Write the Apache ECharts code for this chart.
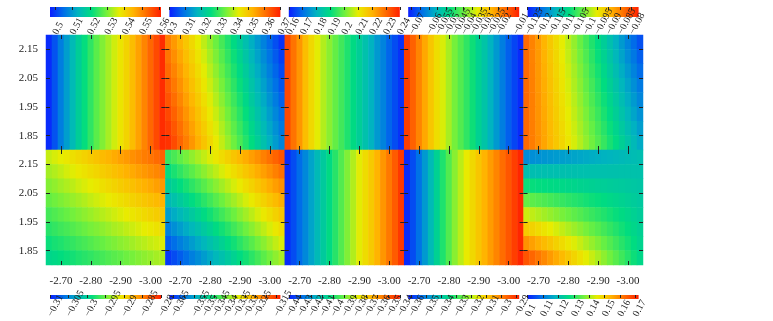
<!DOCTYPE html>
<html>
<head>
<meta charset="utf-8">
<title>heatmap grid</title>
<script src="https://cdn.jsdelivr.net/npm/echarts@6.0.0/dist/echarts.min.js"></script>
<style>
  html, body { margin: 0; padding: 0; background: #fff; }
  #main { width: 773px; height: 321px; }
</style>
</head>
<body>
<div id="main"></div>
<script>
// shared axes of the ten panels
const xTicks = [-2.70, -2.80, -2.90, -3.00];
const yTicks = [1.85, 1.95, 2.05, 2.15];
const xRange = [-3.05, -2.65];
const yRange = [1.80, 2.20];

// panel values: rows from top (y=2.2) down, columns from x=-2.65 to x=-3.05
const valuesA = [
  [0.4983,0.5021,0.5066,0.5104,0.5143,0.5181,0.5213,0.5245,0.5277,0.5303,
   0.5328,0.5354,0.5380,0.5405,0.5437,0.5469,0.5501,0.5533,0.5565,0.5597]
];
const valuesB = [
  [0.3587,0.3557,0.3527,0.3497,0.3468,0.3438,0.3408,0.3378,0.3349,0.3319,0.3289,0.3259,0.3230,0.3200,0.3170,0.3140,0.3111,0.3081,0.3051,0.3021],
  [0.3600,0.3570,0.3540,0.3510,0.3481,0.3451,0.3421,0.3391,0.3362,0.3332,0.3302,0.3272,0.3243,0.3213,0.3183,0.3153,0.3124,0.3094,0.3064,0.3034],
  [0.3613,0.3583,0.3553,0.3523,0.3494,0.3464,0.3434,0.3404,0.3375,0.3345,0.3315,0.3285,0.3256,0.3226,0.3196,0.3166,0.3137,0.3107,0.3077,0.3047],
  [0.3626,0.3596,0.3566,0.3536,0.3507,0.3477,0.3447,0.3417,0.3388,0.3358,0.3328,0.3298,0.3269,0.3239,0.3209,0.3179,0.3150,0.3120,0.3090,0.3060],
  [0.3639,0.3609,0.3579,0.3549,0.3520,0.3490,0.3460,0.3430,0.3401,0.3371,0.3341,0.3311,0.3282,0.3252,0.3222,0.3192,0.3163,0.3133,0.3103,0.3073],
  [0.3653,0.3623,0.3593,0.3563,0.3534,0.3504,0.3474,0.3444,0.3415,0.3385,0.3355,0.3325,0.3296,0.3266,0.3236,0.3206,0.3177,0.3147,0.3117,0.3087],
  [0.3666,0.3636,0.3606,0.3576,0.3547,0.3517,0.3487,0.3457,0.3428,0.3398,0.3368,0.3338,0.3309,0.3279,0.3249,0.3219,0.3190,0.3160,0.3130,0.3100],
  [0.3679,0.3649,0.3619,0.3589,0.3560,0.3530,0.3500,0.3470,0.3441,0.3411,0.3381,0.3351,0.3322,0.3292,0.3262,0.3232,0.3203,0.3173,0.3143,0.3113]
];
const valuesC = [
  [0.2344,0.2288,0.2240,0.2184,0.2136,0.2096,0.2056,0.2024,0.1992,0.1960,
   0.1928,0.1896,0.1864,0.1832,0.1800,0.1760,0.1728,0.1688,0.1656,0.1624]
];
const valuesD = [
  [-0.0112,-0.0150,-0.0189,-0.0227,-0.0266,-0.0298,-0.0330,-0.0362,-0.0394,-0.0419,
   -0.0445,-0.0470,-0.0502,-0.0528,-0.0560,-0.0592,-0.0624,-0.0656,-0.0682,-0.0707]
];
const valuesE = [
  [-0.0830,-0.0850,-0.0870,-0.0891,-0.0911,-0.0931,-0.0951,-0.0971,-0.0991,-0.1012,-0.1032,-0.1052,-0.1072,-0.1092,-0.1112,-0.1132,-0.1153,-0.1173,-0.1193,-0.1213],
  [-0.0830,-0.0850,-0.0869,-0.0889,-0.0909,-0.0928,-0.0948,-0.0968,-0.0987,-0.1007,-0.1026,-0.1046,-0.1066,-0.1085,-0.1105,-0.1124,-0.1144,-0.1164,-0.1183,-0.1203],
  [-0.0830,-0.0849,-0.0868,-0.0887,-0.0906,-0.0925,-0.0944,-0.0963,-0.0982,-0.1001,-0.1020,-0.1040,-0.1059,-0.1078,-0.1097,-0.1116,-0.1135,-0.1154,-0.1173,-0.1192],
  [-0.0830,-0.0848,-0.0867,-0.0885,-0.0904,-0.0922,-0.0941,-0.0959,-0.0978,-0.0996,-0.1015,-0.1033,-0.1052,-0.1070,-0.1089,-0.1107,-0.1126,-0.1144,-0.1163,-0.1181],
  [-0.0829,-0.0847,-0.0865,-0.0883,-0.0901,-0.0919,-0.0937,-0.0955,-0.0973,-0.0991,-0.1009,-0.1027,-0.1045,-0.1063,-0.1081,-0.1099,-0.1117,-0.1135,-0.1153,-0.1171],
  [-0.0829,-0.0847,-0.0864,-0.0881,-0.0899,-0.0916,-0.0934,-0.0951,-0.0969,-0.0986,-0.1003,-0.1021,-0.1038,-0.1056,-0.1073,-0.1091,-0.1108,-0.1125,-0.1143,-0.1160],
  [-0.0829,-0.0846,-0.0863,-0.0879,-0.0896,-0.0913,-0.0930,-0.0947,-0.0964,-0.0981,-0.0998,-0.1014,-0.1031,-0.1048,-0.1065,-0.1082,-0.1099,-0.1116,-0.1132,-0.1149],
  [-0.0829,-0.0845,-0.0861,-0.0878,-0.0894,-0.0910,-0.0926,-0.0943,-0.0959,-0.0975,-0.0992,-0.1008,-0.1024,-0.1040,-0.1057,-0.1073,-0.1089,-0.1106,-0.1122,-0.1138]
];
const valuesF = [
  [-0.2923,-0.2918,-0.2913,-0.2909,-0.2904,-0.2899,-0.2895,-0.2890,-0.2885,-0.2880,-0.2876,-0.2871,-0.2866,-0.2862,-0.2857,-0.2852,-0.2847,-0.2843,-0.2838,-0.2833],
  [-0.2933,-0.2929,-0.2924,-0.2919,-0.2915,-0.2910,-0.2906,-0.2901,-0.2897,-0.2892,-0.2888,-0.2883,-0.2879,-0.2874,-0.2870,-0.2865,-0.2861,-0.2856,-0.2852,-0.2847],
  [-0.2943,-0.2939,-0.2934,-0.2930,-0.2926,-0.2921,-0.2917,-0.2913,-0.2909,-0.2904,-0.2900,-0.2896,-0.2891,-0.2887,-0.2883,-0.2878,-0.2874,-0.2870,-0.2865,-0.2861],
  [-0.2953,-0.2949,-0.2945,-0.2941,-0.2937,-0.2933,-0.2929,-0.2924,-0.2920,-0.2916,-0.2912,-0.2908,-0.2904,-0.2900,-0.2895,-0.2891,-0.2887,-0.2883,-0.2879,-0.2875],
  [-0.2964,-0.2960,-0.2956,-0.2952,-0.2948,-0.2944,-0.2940,-0.2936,-0.2932,-0.2928,-0.2924,-0.2920,-0.2916,-0.2912,-0.2908,-0.2904,-0.2900,-0.2896,-0.2892,-0.2888],
  [-0.2974,-0.2970,-0.2966,-0.2963,-0.2959,-0.2955,-0.2951,-0.2947,-0.2944,-0.2940,-0.2936,-0.2932,-0.2929,-0.2925,-0.2921,-0.2917,-0.2913,-0.2910,-0.2906,-0.2902],
  [-0.2984,-0.2980,-0.2977,-0.2973,-0.2970,-0.2966,-0.2963,-0.2959,-0.2955,-0.2952,-0.2948,-0.2945,-0.2941,-0.2938,-0.2934,-0.2930,-0.2927,-0.2923,-0.2920,-0.2916],
  [-0.2994,-0.2991,-0.2987,-0.2984,-0.2981,-0.2977,-0.2974,-0.2971,-0.2967,-0.2964,-0.2960,-0.2957,-0.2954,-0.2950,-0.2947,-0.2943,-0.2940,-0.2937,-0.2933,-0.2930]
];
const valuesG = [
  [-0.3435,-0.3422,-0.3408,-0.3395,-0.3381,-0.3367,-0.3354,-0.3340,-0.3327,-0.3313,-0.3300,-0.3286,-0.3272,-0.3259,-0.3245,-0.3232,-0.3218,-0.3204,-0.3191,-0.3177],
  [-0.3466,-0.3452,-0.3438,-0.3424,-0.3411,-0.3397,-0.3383,-0.3369,-0.3356,-0.3342,-0.3328,-0.3314,-0.3301,-0.3287,-0.3273,-0.3259,-0.3246,-0.3232,-0.3218,-0.3204],
  [-0.3496,-0.3482,-0.3468,-0.3454,-0.3440,-0.3427,-0.3413,-0.3399,-0.3385,-0.3371,-0.3357,-0.3343,-0.3329,-0.3315,-0.3301,-0.3287,-0.3273,-0.3259,-0.3245,-0.3232],
  [-0.3526,-0.3512,-0.3498,-0.3484,-0.3470,-0.3456,-0.3442,-0.3428,-0.3414,-0.3400,-0.3385,-0.3371,-0.3357,-0.3343,-0.3329,-0.3315,-0.3301,-0.3287,-0.3273,-0.3259],
  [-0.3557,-0.3542,-0.3528,-0.3514,-0.3499,-0.3485,-0.3471,-0.3457,-0.3442,-0.3428,-0.3414,-0.3400,-0.3385,-0.3371,-0.3357,-0.3343,-0.3328,-0.3314,-0.3300,-0.3286],
  [-0.3587,-0.3572,-0.3558,-0.3543,-0.3529,-0.3515,-0.3500,-0.3486,-0.3471,-0.3457,-0.3443,-0.3428,-0.3414,-0.3399,-0.3385,-0.3370,-0.3356,-0.3342,-0.3327,-0.3313],
  [-0.3617,-0.3603,-0.3588,-0.3574,-0.3559,-0.3544,-0.3530,-0.3515,-0.3501,-0.3486,-0.3471,-0.3457,-0.3442,-0.3427,-0.3413,-0.3398,-0.3384,-0.3369,-0.3354,-0.3340],
  [-0.3648,-0.3633,-0.3618,-0.3603,-0.3588,-0.3574,-0.3559,-0.3544,-0.3529,-0.3515,-0.3500,-0.3485,-0.3470,-0.3456,-0.3441,-0.3426,-0.3411,-0.3396,-0.3382,-0.3367]
];
const valuesH = [
  [-0.438,-0.433,-0.428,-0.423,-0.418,-0.413,-0.408,-0.403,-0.398,-0.393,
   -0.388,-0.383,-0.378,-0.374,-0.370,-0.365,-0.360,-0.355,-0.350,-0.344]
];
const valuesI = [
  [-0.3605,-0.3568,-0.3524,-0.3472,-0.3420,-0.3368,-0.3317,-0.3272,-0.3228,-0.3191,
   -0.3154,-0.3124,-0.3095,-0.3065,-0.3035,-0.3006,-0.2976,-0.2947,-0.2917,-0.2887]
];
const valuesJ = [
  [0.1127,0.1131,0.1135,0.1139,0.1143,0.1147,0.1151,0.1155,0.1159,0.1163,0.1167,0.1171,0.1175,0.1179,0.1183,0.1187,0.1191,0.1195,0.1198,0.1202],
  [0.1203,0.1203,0.1203,0.1204,0.1204,0.1204,0.1205,0.1205,0.1205,0.1206,0.1206,0.1207,0.1207,0.1207,0.1208,0.1208,0.1209,0.1209,0.1209,0.1210],
  [0.1279,0.1275,0.1272,0.1269,0.1266,0.1263,0.1260,0.1257,0.1254,0.1250,0.1247,0.1244,0.1241,0.1238,0.1235,0.1232,0.1229,0.1226,0.1222,0.1219],
  [0.1354,0.1347,0.1340,0.1334,0.1327,0.1320,0.1314,0.1307,0.1300,0.1294,0.1287,0.1280,0.1274,0.1267,0.1260,0.1254,0.1247,0.1240,0.1234,0.1227],
  [0.1430,0.1420,0.1409,0.1399,0.1389,0.1379,0.1368,0.1358,0.1348,0.1338,0.1327,0.1317,0.1307,0.1297,0.1286,0.1276,0.1266,0.1256,0.1245,0.1235],
  [0.1505,0.1491,0.1477,0.1463,0.1450,0.1436,0.1422,0.1408,0.1395,0.1381,0.1367,0.1353,0.1340,0.1326,0.1312,0.1298,0.1284,0.1271,0.1257,0.1243],
  [0.1581,0.1564,0.1546,0.1529,0.1512,0.1494,0.1477,0.1460,0.1442,0.1425,0.1407,0.1390,0.1373,0.1355,0.1338,0.1321,0.1303,0.1286,0.1269,0.1251],
  [0.1656,0.1635,0.1614,0.1593,0.1572,0.1551,0.1531,0.1510,0.1489,0.1468,0.1447,0.1426,0.1405,0.1384,0.1363,0.1343,0.1322,0.1301,0.1280,0.1259]
];

// colour bar ranges and their tick labels
const rangeA = [0.497, 0.561], ticksA = [0.5, 0.51, 0.52, 0.53, 0.54, 0.55, 0.56];
const rangeB = [0.300, 0.370], ticksB = [0.3, 0.31, 0.32, 0.33, 0.34, 0.35, 0.36, 0.37];
const rangeC = [0.160, 0.240], ticksC = [0.16, 0.17, 0.18, 0.19, 0.2, 0.21, 0.22, 0.23, 0.24];
const rangeD = [-0.072, -0.008], ticksD = [-0.07, -0.065, -0.06, -0.055, -0.05, -0.045, -0.04, -0.035, -0.03, -0.025, -0.02, -0.015, -0.01];
const rangeE = [-0.125, -0.077], ticksE = [-0.125, -0.12, -0.115, -0.11, -0.105, -0.1, -0.095, -0.09, -0.085, -0.08];
const rangeF = [-0.310, -0.280], ticksF = [-0.31, -0.305, -0.3, -0.295, -0.29, -0.285, -0.28];
const rangeG = [-0.367, -0.313], ticksG = [-0.365, -0.36, -0.355, -0.35, -0.345, -0.34, -0.335, -0.33, -0.325, -0.32, -0.315];
const rangeH = [-0.440, -0.340], ticksH = [-0.44, -0.43, -0.42, -0.41, -0.4, -0.39, -0.38, -0.37, -0.36, -0.35, -0.34];
const rangeI = [-0.362, -0.288], ticksI = [-0.36, -0.35, -0.34, -0.33, -0.32, -0.31, -0.3, -0.29];
const rangeJ = [0.100, 0.172], ticksJ = [0.1, 0.11, 0.12, 0.13, 0.14, 0.15, 0.16, 0.17];

const jet = ['#0a1eff', '#0070e8', '#00b4c0', '#00dc80', '#6cf040', '#e8ec00', '#ffb400', '#ff6a00', '#ff2000'];
const font = 'Liberation Serif';
const ink = '#222';

const panels = [
  { vals: valuesA, range: rangeA, ticks: ticksA },
  { vals: valuesB, range: rangeB, ticks: ticksB },
  { vals: valuesC, range: rangeC, ticks: ticksC },
  { vals: valuesD, range: rangeD, ticks: ticksD },
  { vals: valuesE, range: rangeE, ticks: ticksE },
  { vals: valuesF, range: rangeF, ticks: ticksF },
  { vals: valuesG, range: rangeG, ticks: ticksG },
  { vals: valuesH, range: rangeH, ticks: ticksH },
  { vals: valuesI, range: rangeI, ticks: ticksI },
  { vals: valuesJ, range: rangeJ, ticks: ticksJ }
];

const lefts = [46, 165.4, 284.8, 404.2, 523.6];
const tops = [35, 150];
const pw = 119.4, ph = 115;

const fmtBar = v => String(v).replace('-', '\u2212');
const barGradient = () => new echarts.graphic.LinearGradient(0, 0, 1, 0,
  jet.map((c, i) => ({ offset: i / (jet.length - 1), color: c })));

const grid = [], xAxis = [], yAxis = [], series = [], visualMap = [];
const noLine = { show: false };
const tickIn = { inside: true, length: 4, lineStyle: { color: ink, width: 1 } };

panels.forEach((p, k) => {
  const row = Math.floor(k / 5), col = k % 5;
  const nr = p.vals.length, nc = p.vals[0].length;

  // heatmap panel
  const gi = grid.length;
  grid.push({ left: lefts[col], top: tops[row], width: pw, height: ph });
  const xc = xAxis.length;
  xAxis.push({ type: 'category', gridIndex: gi, data: [...Array(nc).keys()], show: false });
  xAxis.push({
    type: 'value', gridIndex: gi, position: 'bottom', min: xRange[0], max: xRange[1], inverse: true,
    z: 10, axisLine: noLine, splitLine: noLine,
    axisTick: Object.assign({ customValues: xTicks }, tickIn),
    axisLabel: {
      show: row === 1, customValues: xTicks, margin: 11, color: ink,
      fontFamily: font, fontSize: 11, formatter: v => v.toFixed(2)
    }
  });
  xAxis.push({
    type: 'value', gridIndex: gi, position: 'top', min: xRange[0], max: xRange[1], inverse: true,
    z: 10, axisLine: noLine, splitLine: noLine, axisLabel: { show: false },
    axisTick: Object.assign({ customValues: xTicks }, tickIn)
  });
  const yc = yAxis.length;
  yAxis.push({ type: 'category', gridIndex: gi, data: [...Array(nr).keys()], inverse: true, show: false });
  yAxis.push({
    type: 'value', gridIndex: gi, position: 'left', min: yRange[0], max: yRange[1],
    z: 10, axisLine: noLine, splitLine: noLine,
    axisTick: Object.assign({ customValues: yTicks }, tickIn),
    axisLabel: {
      show: col === 0, customValues: yTicks, margin: 8, color: ink,
      fontFamily: font, fontSize: 11, formatter: v => v.toFixed(2)
    }
  });
  yAxis.push({
    type: 'value', gridIndex: gi, position: 'right', min: yRange[0], max: yRange[1],
    z: 10, axisLine: noLine, splitLine: noLine, axisLabel: { show: false },
    axisTick: Object.assign({ customValues: yTicks }, tickIn)
  });

  const data = [];
  p.vals.forEach((r, j) => r.forEach((v, i) => data.push([i, j, v])));
  series.push({
    type: 'heatmap', xAxisIndex: xc, yAxisIndex: yc, data: data, z: 1,
    itemStyle: { borderWidth: 0 }, emphasis: { disabled: true }, progressive: 0
  });
  visualMap.push({
    type: 'continuous', show: false, seriesIndex: k, dimension: 2,
    min: p.range[0], max: p.range[1], inRange: { color: jet }
  });

  // colour bar
  const bi = grid.length;
  grid.push({
    left: lefts[col] + 4, top: row === 0 ? 7 : 295, width: 111, height: row === 0 ? 10 : 9,
    show: true, borderWidth: 0, backgroundColor: barGradient()
  });
  xAxis.push({
    type: 'value', gridIndex: bi, position: 'bottom', min: p.range[0], max: p.range[1],
    z: 10, axisLine: noLine, splitLine: noLine, axisTick: { show: false },
    axisLabel: {
      customValues: p.ticks, rotate: 62, align: 'left', verticalAlign: 'middle',
      margin: 17, color: ink, fontFamily: font, fontSize: 10, formatter: fmtBar,
      showMinLabel: true, showMaxLabel: true, hideOverlap: false
    }
  });
  xAxis.push({
    type: 'value', gridIndex: bi, position: 'top', min: p.range[0], max: p.range[1],
    z: 10, axisLine: noLine, splitLine: noLine, axisLabel: { show: false },
    axisTick: { customValues: p.ticks, inside: true, length: 3, lineStyle: { color: ink, width: 1 } }
  });
  yAxis.push({ type: 'value', gridIndex: bi, show: false });
});

const chart = echarts.init(document.getElementById('main'), null, { renderer: 'canvas' });
chart.setOption({
  animation: false,
  backgroundColor: '#fff',
  grid, xAxis, yAxis, series, visualMap
});
</script>
</body>
</html>
